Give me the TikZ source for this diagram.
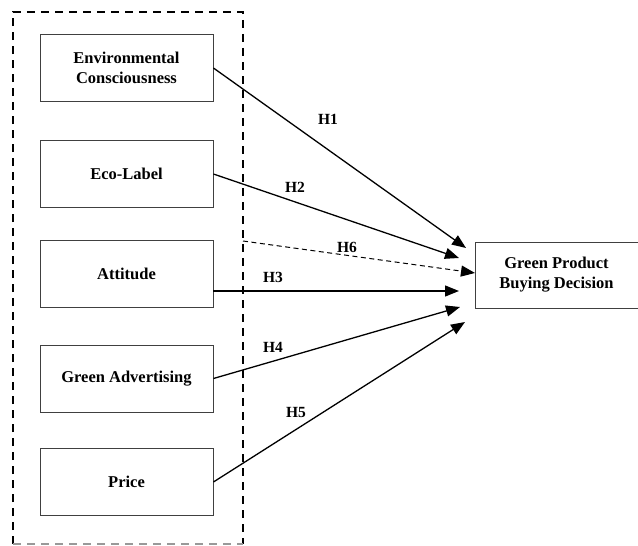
\documentclass[tikz,border=0pt]{standalone}
\usepackage{fontspec}
\setmainfont{Liberation Serif}
\usetikzlibrary{arrows.meta}
\begin{document}
\begin{tikzpicture}[x=1pt,y=-1pt,
  var/.style={draw=black!75, line width=0.9pt, minimum width=173pt, minimum height=67pt,
    inner sep=0pt, align=center, font=\bfseries\fontsize{16.5}{20}\selectfont},
  hyp/.style={line width=1.3pt, -{Triangle[length=14pt,width=11pt]}},
  lab/.style={font=\bfseries\fontsize{15.5}{18}\selectfont, inner sep=0pt},
  group/.style={draw, dashed, line width=1.8pt, dash pattern=on 8pt off 6pt}]
\useasboundingbox (0,0) rectangle (638,546);
\fill[white] (0,0) rectangle (638,546);
\draw[group] (13,544) -- (13,12) -- (243,12) -- (243,544);
\draw[group, draw=black!40, line width=1.2pt] (13,544) -- (243,544);
\node[var] (ec) at (126.5,68) {Environmental\\Consciousness};
\node[var] (el) at (126.5,174) {Eco-Label};
\node[var] (at) at (126.5,274) {Attitude};
\node[var] (ga) at (126.5,378.5) {Green Advertising};
\node[var] (pr) at (126.5,482) {Price};
\node[var, minimum width=163pt, minimum height=66pt] (gp) at (556.5,275) {Green Product\\Buying Decision};
\coordinate (g6) at (243,241);
\coordinate (t1) at (466,248);
\coordinate (t2) at (459,258);
\coordinate (t6) at (475,273);
\coordinate (t3) at (459,291);
\coordinate (t4) at (460,307);
\coordinate (t5) at (465,322);
\draw[hyp] (ec.east) -- (t1);
\draw[hyp] (el.east) -- (t2);
\draw[hyp, line width=1pt, dash pattern=on 5pt off 3.5pt] (g6) -- (t6);
\draw[hyp] (at.east |- t3) -- (t3);
\draw[hyp] (ga.east) -- (t4);
\draw[hyp] (pr.east) -- (t5);
\node[lab] (h1) at (328,119) {H1};
\node[lab] (h2) at (295,187) {H2};
\node[lab] (h6) at (347,247) {H6};
\node[lab] (h3) at (273,277) {H3};
\node[lab] (h4) at (273,347) {H4};
\node[lab] (h5) at (296,412) {H5};
\end{tikzpicture}
\end{document}
